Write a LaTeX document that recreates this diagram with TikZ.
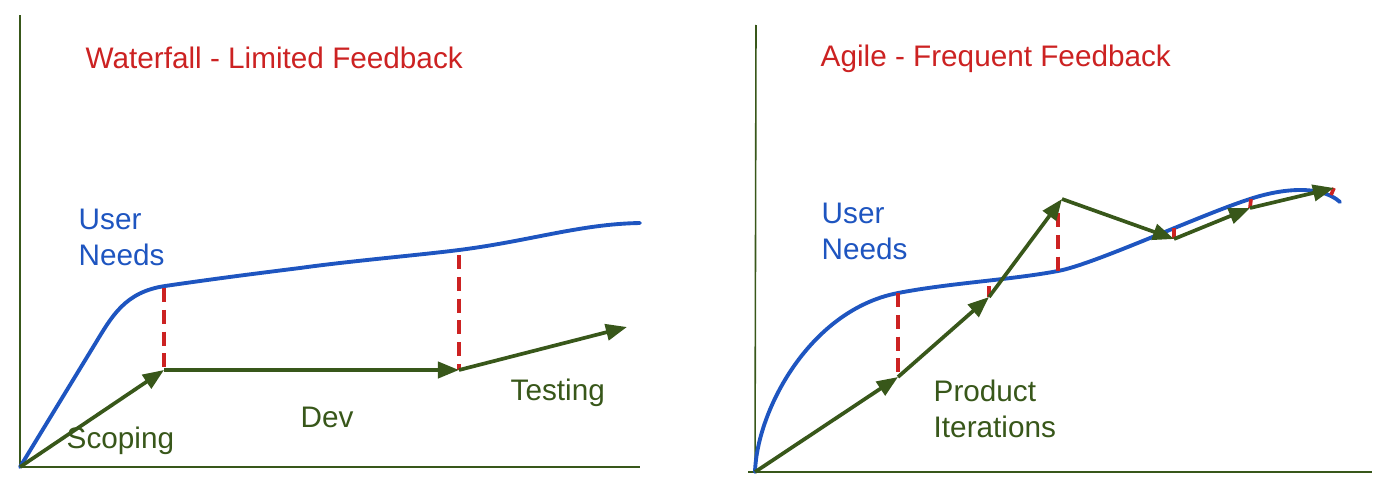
\documentclass[tikz,border=0pt]{standalone}
\usepackage{fontspec}
\setmainfont{Liberation Sans}
\usetikzlibrary{arrows.meta}
\definecolor{gr}{HTML}{38571A}
\definecolor{bl}{HTML}{1E55C0}
\definecolor{rd}{HTML}{CC2222}
\begin{document}
\begin{tikzpicture}[x=0.01cm,y=-0.01cm,
  axis/.style={draw=gr,line width=0.45pt},
  need/.style={draw=bl,line width=1.1pt,line cap=round},
  prod/.style={draw=gr,line width=1.05pt,-{Triangle[length=6pt,width=4.6pt]}},
  gap/.style={draw=rd,line width=1.05pt,dash pattern=on 4pt off 2.2pt},
  lbl/.style={inner sep=0pt,anchor=base west,align=left,font=\fontsize{8.45pt}{9.96pt}\selectfont},
  ttl/.style={lbl,text=rd},
  btxt/.style={lbl,text=bl},
  gtxt/.style={lbl,text=gr}]
\useasboundingbox (0,0) rectangle (1400,494);
% ---------- Waterfall ----------
\coordinate (lo) at (20,467);
\coordinate (ltop) at (20,15);
\coordinate (lend) at (640,467);
\draw[axis] (ltop) -- (lo) -- (lend);
\draw[need] (20,467) -- (95,344) .. controls (112,316) and (125,292) .. (165,286)
  .. controls (220,278) and (260,273) .. (300,268)
  .. controls (350,261) and (420,255) .. (459,250)
  .. controls (530,241) and (580,224) .. (640,223);
\coordinate (w1) at (164,370);
\coordinate (w2) at (459,370);
\coordinate (w3) at (627,327);
\coordinate (w1u) at (164,288);
\coordinate (w2u) at (459,255);
\draw[gap] (w1u) -- (w1);
\draw[gap] (w2u) -- (w2);
\draw[prod] (lo) -- (w1);
\draw[prod] (w1) -- (w2);
\draw[prod] (w2) -- (w3);
\node[ttl] (wt) at (85,68) {Waterfall - Limited Feedback};
\node[btxt] (wu) at (78,265) {User\\Needs};
\node[gtxt] (ws) at (66,448) {Scoping};
\node[gtxt] (wd) at (300,427) {Dev};
\node[gtxt] (wte) at (510,400) {Testing};
% ---------- Agile ----------
\coordinate (ro) at (755,472);
\coordinate (rtop) at (756,25);
\coordinate (rstart) at (748,472);
\coordinate (rend) at (1372,472);
\draw[axis] (rtop) -- (ro);
\draw[axis] (rstart) -- (rend);
\draw[need] (755,472) .. controls (757,410) and (810,310) .. (898,293)
  .. controls (950,283) and (1010,280) .. (1058,271)
  .. controls (1095,264) and (1200,215) .. (1250,199)
  .. controls (1280,189) and (1320,184) .. (1340,202);
\coordinate (a1) at (898,377);
\coordinate (a2) at (989,297);
\coordinate (a3) at (1062,199);
\coordinate (a4) at (1174,239);
\coordinate (a5) at (1250,208);
\coordinate (a6) at (1334,188);
\coordinate (a1u) at (898,293);
\coordinate (a2u) at (989,286);
\coordinate (a3u) at (1058,213);
\coordinate (a3d) at (1058,271);
\coordinate (a4u) at (1174,228);
\coordinate (a5u) at (1251,199);
\coordinate (a6u) at (1331,195);
\draw[gap] (a1u) -- (a1);
\draw[gap] (a2u) -- (a2);
\draw[gap] (a3u) -- (a3d);
\draw[gap] (a4u) -- (a4);
\draw[gap] (a5u) -- (a5);
\draw[gap] (a6u) -- (a6);
\draw[prod] (ro) -- (a1);
\draw[prod] (a1) -- (a2);
\draw[prod] (a2) -- (a3);
\draw[prod] (a3) -- (a4);
\draw[prod] (a4) -- (a5);
\draw[prod] (a5) -- (a6);
\node[ttl] (at) at (820,66) {Agile - Frequent Feedback};
\node[btxt] (au) at (821,259) {User\\Needs};
\node[gtxt] (ap) at (933,437) {Product\\Iterations};
\end{tikzpicture}
\end{document}
